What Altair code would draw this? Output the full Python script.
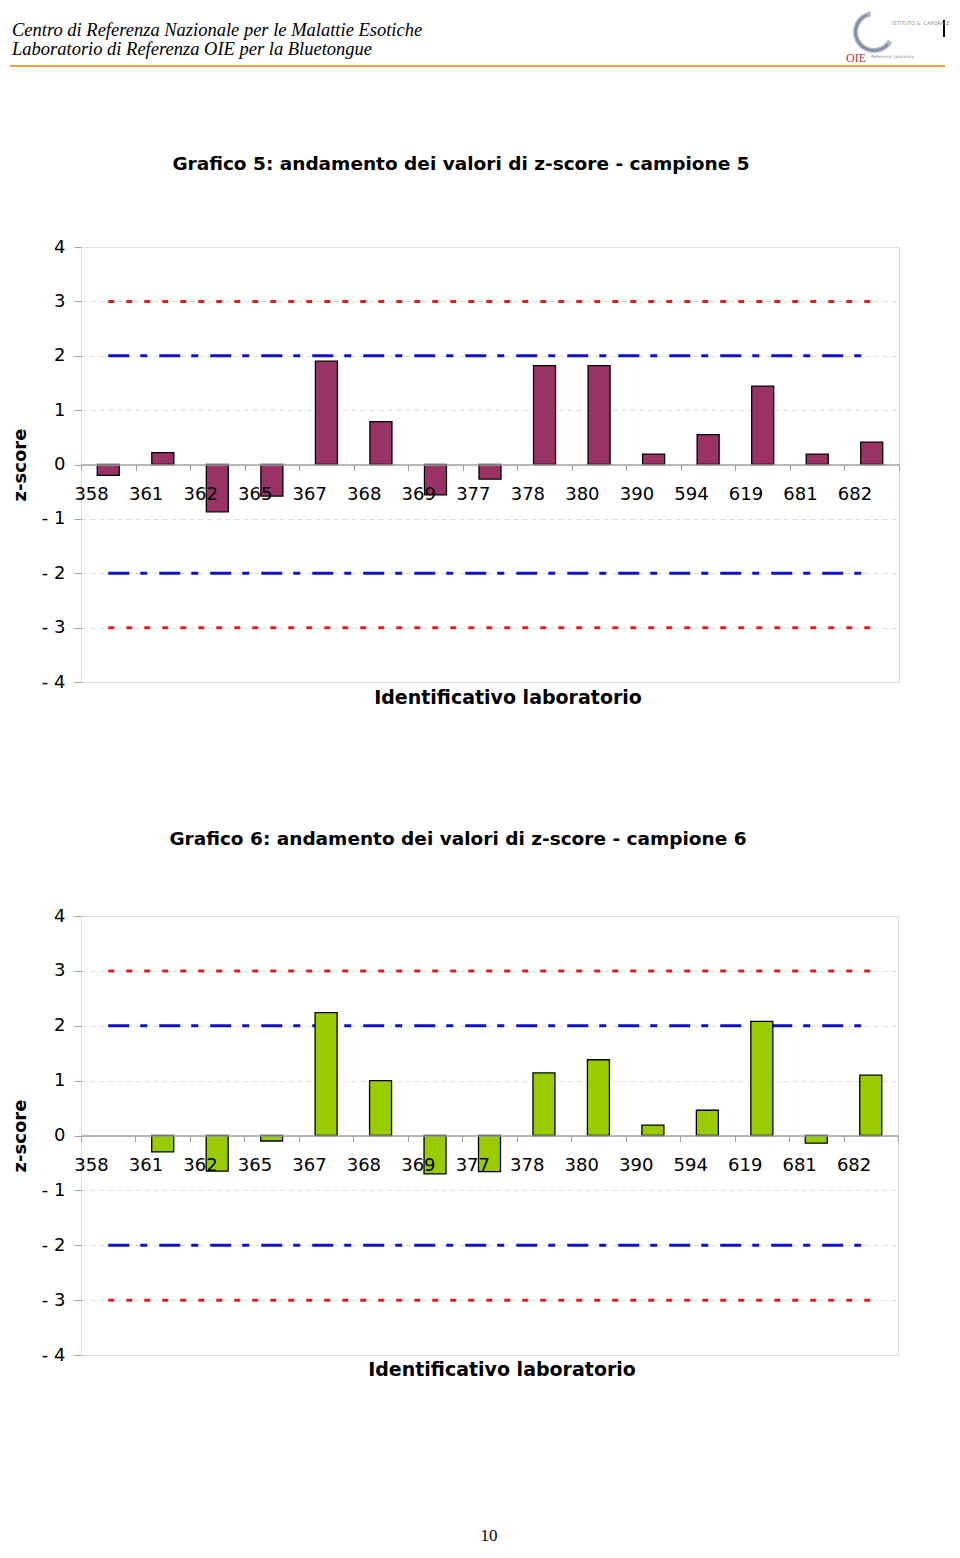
import altair as alt
import pandas as pd

# ---------------- data ----------------
labs = ["358", "361", "362", "365", "367", "368", "369", "377",
        "378", "380", "390", "594", "619", "681", "682"]
z_camp5 = [-0.20, 0.22, -0.87, -0.58, 1.90, 0.79, -0.56, -0.27,
           1.82, 1.82, 0.19, 0.55, 1.44, 0.19, 0.41]
z_camp6 = [None, -0.30, -0.65, -0.10, 2.24, 1.00, -0.70, -0.66,
           1.14, 1.38, 0.19, 0.46, 2.08, -0.14, 1.10]
limits = [3, -3, 2, -2]
limit_kind = ["azione", "azione", "avvertimento", "avvertimento"]
y_ticks = [-4, -3, -2, -1, 0, 1, 2, 3, 4]

header_lines = ["Centro di Referenza Nazionale per le Malattie Esotiche",
                "Laboratorio di Referenza OIE per la Bluetongue"]
titles = ["Grafico 5: andamento dei valori di z-score - campione 5",
          "Grafico 6: andamento dei valori di z-score - campione 6"]
x_title = "Identificativo laboratorio"
y_title = "z-score"
page_number = "10"

SANS = "DejaVu Sans"
W1, H1 = 818, 435
W2, H2 = 817, 439


def txt(s, x, y, size=17, weight="normal", font=SANS, style="normal",
        color="black", align="center", baseline="middle"):
    return alt.Chart(pd.DataFrame({"t": [s]})).mark_text(
        font=font, fontSize=size, fontWeight=weight, fontStyle=style,
        color=color, align=align, baseline=baseline
    ).encode(text="t:N", x=alt.value(x), y=alt.value(y))


def panel(values, color, W, H, title, title_xy, xt_xy, ytitle_x):
    df = pd.DataFrame({"lab": labs, "z": values})
    lim_rows = []
    for lv, kd in zip(limits, limit_kind):
        for l in labs:
            lim_rows.append({"lab": l, "lim": lv, "kind": kd})
    lim_df = pd.DataFrame(lim_rows)

    xenc = alt.X("lab:N", sort=labs,
                 scale=alt.Scale(paddingInner=0, paddingOuter=0),
                 axis=alt.Axis(orient="bottom", offset=-H / 2, title=None,
                               labelAngle=0, labelFont=SANS, labelFontSize=18,
                               labelColor="black", labelPadding=24,
                               domainColor="#a0a0a0", domainWidth=1.5,
                               tickColor="#a0a0a0", tickSize=6,
                               tickBand="extent", grid=False, zindex=1))
    yscale = alt.Scale(domain=[-4, 4], nice=False, zero=False)
    yaxis = alt.Axis(values=y_ticks, title=y_title,
                     labelExpr="datum.value < 0 ? '- ' + (-datum.value) : '' + datum.value",
                     labelFont=SANS, labelFontSize=18, labelColor="black",
                     labelPadding=9, tickColor="#a0a0a0", tickSize=7,
                     domain=False, grid=True, gridColor="#dedede",
                     gridDash=[5, 4], gridWidth=1,
                     titleFont=SANS, titleFontSize=18, titleFontWeight="bold",
                     titleColor="black", titleX=ytitle_x, titleY=H / 2,
                     titleAngle=-90, titleAlign="center", titleBaseline="middle")

    bars = alt.Chart(df).mark_bar(width=22, color=color, stroke="black",
                                  strokeWidth=1.3).encode(
        x=xenc, y=alt.Y("z:Q", scale=yscale, axis=yaxis))

    red = alt.Chart(lim_df).transform_filter("datum.kind == 'azione'").mark_line(
        color="#e01e1e", strokeWidth=3, strokeDash=[6, 12]).encode(
        x=alt.X("lab:N", sort=labs), y="lim:Q", detail="lim:Q")
    blue = alt.Chart(lim_df).transform_filter("datum.kind == 'avvertimento'").mark_line(
        color="#1010c8", strokeWidth=3, strokeDash=[21, 11, 7, 12]).encode(
        x=alt.X("lab:N", sort=labs), y="lim:Q", detail="lim:Q")

    ttl = txt(title, title_xy[0], title_xy[1], size=18.5, weight="bold")
    xt = txt(x_title, xt_xy[0], xt_xy[1], size=19, weight="bold")
    return [red, blue, bars, ttl, xt]


# chart 1 (plot origin at page (81, 247))
layers1 = panel(z_camp5, "#993366", W1, H1, titles[0], (380, -83), (427, 451), -61)
anchor = alt.Chart(pd.DataFrame({"a": [0]})).mark_rule(color="white", strokeWidth=1).encode(
    x=alt.value(-71.5), x2=alt.value(-60), y=alt.value(-237.5))
hdr1 = txt(header_lines[0], -69, -217, size=18.5, font="Liberation Serif",
           style="italic", align="left")
hdr2 = txt(header_lines[1], -69, -198, size=18.5, font="Liberation Serif",
           style="italic", align="left")
orule = alt.Chart(pd.DataFrame({"a": [0]})).mark_rule(color="#e6a43a", strokeWidth=2).encode(
    x=alt.value(-71), x2=alt.value(864), y=alt.value(-181))
vbar = alt.Chart(pd.DataFrame({"a": [0]})).mark_rule(color="black", strokeWidth=2).encode(
    x=alt.value(863), y=alt.value(-227), y2=alt.value(-210))
logo_arc = alt.Chart(pd.DataFrame({"a": [0]})).mark_arc(
    radius=21, radius2=16, theta=2.1, theta2=6.1, color="#a9b0b8", opacity=0.9).encode(
    x=alt.value(793), y=alt.value(-215))
logo_arc2 = alt.Chart(pd.DataFrame({"a": [0]})).mark_arc(
    radius=19.5, radius2=17.5, theta=2.3, theta2=5.9, color="#6b7fa8", opacity=0.8).encode(
    x=alt.value(793), y=alt.value(-215))
oie = txt("OIE", 775, -189, size=12, font="Liberation Serif", color="#b0353a")
ist = txt("ISTITUTO G. CAPORALE", 811, -224, size=5, color="#8a8f96", align="left")
ref = txt("Reference Laboratory", 790, -190, size=4, color="#8a8f96", align="left")

chart1 = alt.layer(anchor, orule, hdr1, hdr2, vbar, logo_arc, logo_arc2, oie, ist, ref,
                   *layers1).properties(width=W1, height=H1)

# chart 2 (plot origin at page (81, 916))
layers2 = panel(z_camp6, "#99cc00", W2, H2, titles[1], (377, -77), (421, 454), -61)
pnum = txt(page_number, 408, 620, size=17, font="Liberation Serif")
chart2 = alt.layer(*layers2, pnum).properties(width=W2, height=H2)

chart = alt.vconcat(chart1, chart2, spacing=234, bounds="flush").properties(
    padding=0
).configure_view(stroke="#8c8c8c", strokeWidth=2).configure(background="white", padding=0)

chart.save("out.html", embed_options={"renderer": "svg", "actions": False})
